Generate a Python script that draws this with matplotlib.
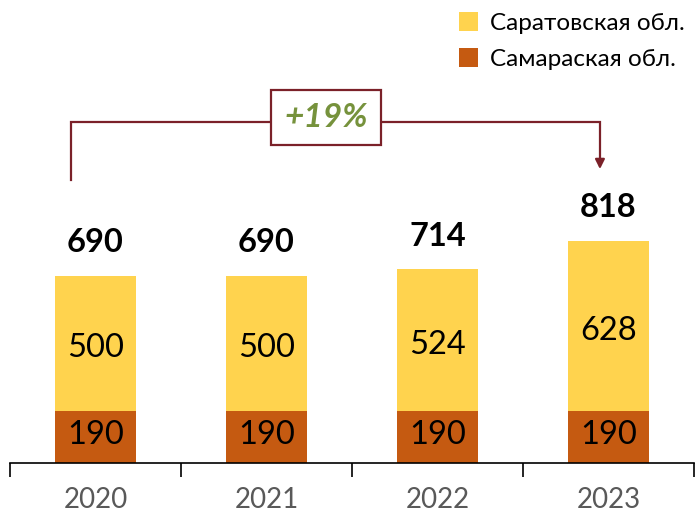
import matplotlib
matplotlib.use("Agg")
import matplotlib.pyplot as plt
import numpy as np

plt.rcParams['font.family'] = ['Lato', 'DejaVu Sans']

years = ["2020", "2021", "2022", "2023"]
samara = [190, 190, 190, 190]
saratov = [500, 500, 524, 628]
totals = [690, 690, 714, 818]
legend_labels = ["Саратовская обл.", "Самараская обл."]
growth_label = "+19%"

c_yellow = "#FFD34E"
c_orange = "#C55A11"
c_dark = "#7B2129"
c_green = "#76923C"

fig = plt.figure(figsize=(6.97, 5.16), dpi=100)
ax = fig.add_axes([10/697, 53/516, 684/697, 463/516])
x = np.arange(len(years))
w = 0.47
ax.bar(x, samara, width=w, color=c_orange, label=legend_labels[1])
ax.bar(x, saratov, width=w, bottom=samara, color=c_yellow, label=legend_labels[0])

for i in range(len(years)):
    ax.text(x[i], samara[i] / 2 + 10, str(samara[i]), ha='center', va='center', fontsize=23.5, color='black')
    ax.text(x[i], samara[i] + saratov[i] / 2 - 16, str(saratov[i]), ha='center', va='center', fontsize=23.5, color='black')
    ax.annotate(str(totals[i]), (x[i], totals[i]), xytext=(0, 24), textcoords='offset points',
                ha='center', va='center', fontsize=23.5, fontweight='bold', color='black')

ax.set_xlim(-0.5, 3.5)
ax.set_ylim(0, 1708)
for s in ['top', 'right', 'left']:
    ax.spines[s].set_visible(False)
ax.spines['bottom'].set_color('black')
ax.spines['bottom'].set_linewidth(1.2)
ax.set_yticks([])
ax.set_xticks(np.arange(-0.5, 4.0, 1.0))
ax.set_xticklabels([])
ax.tick_params(axis='x', direction='out', length=10, width=1.2, color='black')
for i, y in enumerate(years):
    ax.text(x[i], -136, y, ha='center', va='center', fontsize=20, color='#595959')

# bracket annotation
xl, xr = -0.143, 2.95
yb, yh, ya = 1044, 1258, 1074
ax.plot([xl, xl, xr, xr], [yb, yh, yh, ya + 30], color=c_dark, lw=1.6, clip_on=False, solid_joinstyle='miter')
ax.annotate('', xy=(xr, ya), xytext=(xr, ya + 40),
            arrowprops=dict(arrowstyle='-|>', color=c_dark, lw=1.6, mutation_scale=14))
ax.text(1.35, 1275, growth_label, ha='center', va='center', fontsize=24, fontweight='bold',
        fontstyle='italic', color=c_green,
        bbox=dict(boxstyle='square,pad=0.4', fc='white', ec=c_dark, lw=1.6))

h, l = ax.get_legend_handles_labels()
leg = fig.legend(h[::-1], l[::-1], loc='upper right', bbox_to_anchor=(1.0, 1.0), frameon=False,
                 fontsize=17.5, handlelength=0.8, handleheight=0.8, handletextpad=0.5,
                 labelspacing=0.6, borderaxespad=0.1)

fig.savefig("out.png", dpi=100)
